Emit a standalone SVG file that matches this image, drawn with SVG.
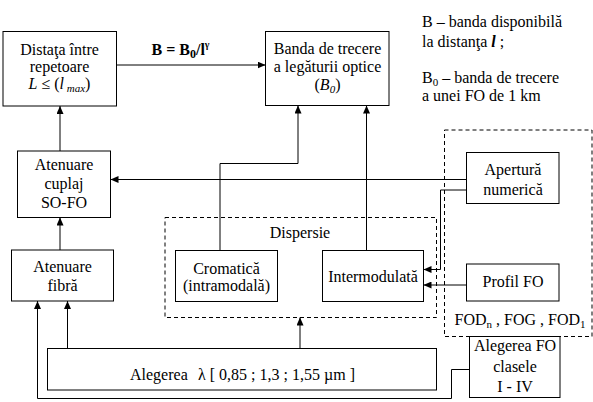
<svg xmlns="http://www.w3.org/2000/svg" width="593" height="402" viewBox="0 0 593 402">
<style>
text{font-family:"Liberation Serif","Times New Roman",serif;font-size:16px;fill:#000}
.c{text-anchor:middle}
.box{fill:#fff;stroke:#000;stroke-width:1}
.dash{fill:none;stroke:#000;stroke-width:1;stroke-dasharray:4,3}
.ln{fill:none;stroke:#000;stroke-width:1}
.ar{fill:none;stroke:#000;stroke-width:1;marker-end:url(#ah)}
</style>
<defs>
<marker id="ah" markerUnits="userSpaceOnUse" markerWidth="9" markerHeight="7" refX="8" refY="3.5" orient="auto">
<path d="M0,0 L8,3.5 L0,7 z" fill="#000"/>
</marker>
</defs>
<rect width="593" height="402" fill="#fff"/>
<g id="dispersie">
<rect class="dash" x="165" y="217.5" width="271.5" height="100"/>
<text class="c" x="300" y="238">Dispersie</text>
</g>
<g id="fod">
<rect class="dash" x="444.5" y="130" width="147.5" height="206.5"/>
<text class="c" x="520" y="325">FOD<tspan font-size="11" dy="3">n</tspan><tspan dy="-3"> , FOG , FOD</tspan><tspan font-size="11" dy="3">1</tspan></text>
</g>
<g id="connectors">
<path class="ar" d="M116.5,65 H265.5"/>
<path class="ar" d="M60,151 V106"/>
<path class="ar" d="M60,250 V217.5"/>
<path class="ar" d="M466.5,179.5 H110.5"/>
<path class="ln" d="M220,250.5 V163.5 H298"/>
<path class="ar" d="M298,163.5 V105.5"/>
<path class="ar" d="M366.5,250.5 V105.5"/>
<path class="ar" d="M466.5,190 H440.5 V269.5 H423.5"/>
<path class="ar" d="M466.5,285 H423.5"/>
<path class="ar" d="M300,348.5 V317.5"/>
<path class="ar" d="M67.5,348.5 V301"/>
<path class="ar" d="M469.5,369.5 H451.5 V398.5 H37.5 V301"/>
</g>
<g id="distanta">
<rect class="box" x="3" y="31.5" width="113.5" height="74.5"/>
<text class="c" x="59.5" y="55">Distaţa între</text>
<text class="c" x="59.5" y="72">repetoare</text>
<text class="c" x="59.5" y="89" font-style="italic">L<tspan font-style="normal"> ≤ (</tspan>l<tspan font-size="11" dy="3"> max</tspan><tspan dy="-3" font-style="normal">)</tspan></text>
</g>
<g id="formula">
<text x="151.5" y="55" font-weight="bold" font-size="17">B = B<tspan font-size="12" dy="3">0</tspan><tspan dy="-3">/l</tspan><tspan font-size="10" dy="-7">γ</tspan></text>
</g>
<g id="banda">
<rect class="box" x="265.5" y="31.5" width="123.5" height="74"/>
<text class="c" x="327.5" y="54">Banda de trecere</text>
<text class="c" x="327.5" y="72">a legăturii optice</text>
<text class="c" x="327.5" y="90">(<tspan font-style="italic">B<tspan font-size="11" dy="3">0</tspan></tspan><tspan dy="-3">)</tspan></text>
</g>
<g id="legenda">
<text x="422" y="27">B – banda disponibilă</text>
<text x="422" y="46.5">la distanţa <tspan font-weight="bold" font-style="italic">l</tspan> ;</text>
<text x="422" y="83">B<tspan font-size="11" dy="3">0</tspan><tspan dy="-3"> – banda de trecere</tspan></text>
<text x="422" y="101">a unei FO de 1 km</text>
</g>
<g id="cuplaj">
<rect class="box" x="17.5" y="151" width="93" height="66.5"/>
<text class="c" x="64" y="169.5">Atenuare</text>
<text class="c" x="64" y="188.5">cuplaj</text>
<text class="c" x="64" y="207.5">SO-FO</text>
</g>
<g id="fibra">
<rect class="box" x="11.5" y="250" width="102" height="51"/>
<text class="c" x="62.5" y="271.5">Atenuare</text>
<text class="c" x="62.5" y="290.5">fibră</text>
</g>
<g id="cromatica">
<rect class="box" x="175.5" y="250.5" width="102" height="51"/>
<text class="c" x="226.5" y="273.5">Cromatică</text>
<text class="c" x="226.5" y="290.5">(intramodală)</text>
</g>
<g id="intermodulata">
<rect class="box" x="322.5" y="250.5" width="101" height="51"/>
<text class="c" x="373" y="281.5">Intermodulată</text>
</g>
<g id="apertura">
<rect class="box" x="466.5" y="152.5" width="92.5" height="51"/>
<text class="c" x="513" y="175">Apertură</text>
<text class="c" x="513" y="195">numerică</text>
</g>
<g id="profil">
<rect class="box" x="466.5" y="264" width="92.5" height="37"/>
<text class="c" x="513" y="287">Profil FO</text>
</g>
<g id="alegerea-fo">
<rect class="box" x="469.5" y="336.5" width="90.5" height="61"/>
<text class="c" x="515" y="351">Alegerea FO</text>
<text class="c" x="515" y="371.5">clasele</text>
<text class="c" x="515" y="391.5">I - IV</text>
</g>
<g id="alegerea-lambda">
<rect class="box" x="47.5" y="348.5" width="389" height="41.5"/>
<text x="130" y="380">Alegerea</text>
<text x="198" y="380">λ [ 0,85 ; 1,3 ; 1,55 µm ]</text>
</g>
</svg>
